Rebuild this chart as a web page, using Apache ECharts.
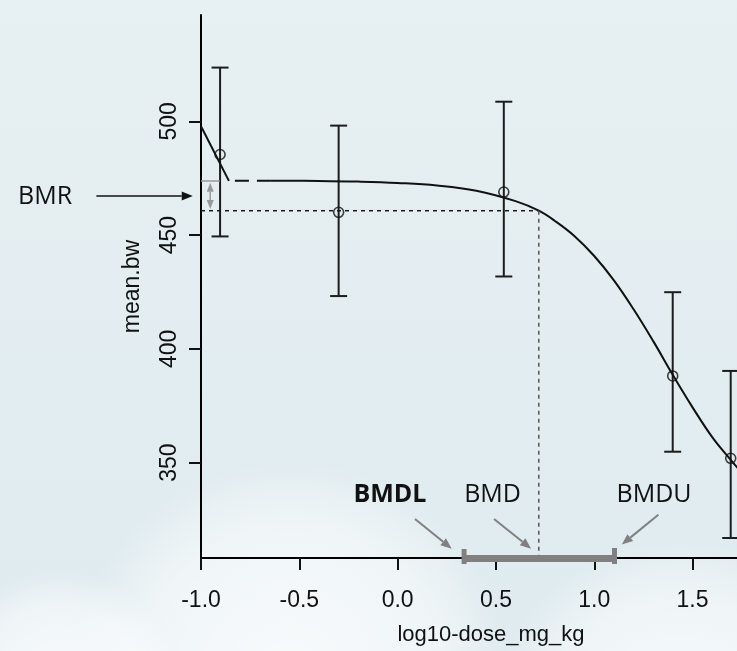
<!DOCTYPE html>
<html>
<head>
<meta charset="utf-8">
<script src="https://cdn.jsdelivr.net/npm/echarts@6/dist/echarts.min.js"></script>
<style>
  html, body { margin: 0; padding: 0; }
  #chart { width: 737px; height: 651px; }
</style>
</head>
<body>
<div id="chart"></div>
<script>
// observed dose groups (log10 dose) with mean and error bar limits
const doseLog = [-0.903, -0.3, 0.54, 1.399, 1.694];
const meanBw = [485.4, 460.0, 468.9, 388.1, 351.9];
const lowerBw = [449.4, 423.2, 431.8, 354.8, 316.9];
const upperBw = [523.6, 498.1, 508.6, 424.9, 390.3];

// fitted curve
const curveX = [-0.644, -0.4, -0.2, 0, 0.2, 0.4, 0.6, 0.718, 0.8, 0.9, 1.0, 1.1, 1.2, 1.3, 1.4, 1.5, 1.6, 1.694, 1.73];
const curveY = [473.9, 473.8, 473.5, 472.9, 471.8, 469.5, 464.9, 460.7, 456.2, 449.5, 440.8, 430.1, 417.4, 403.4, 388.5, 374.3, 361.2, 351.2, 347.6];

// short piece left of the control group + dashed link
const leadX = [-1.0, -0.858];
const leadY = [497.8, 473.8];
const linkX = [-0.858, -0.644];
const linkY = [473.8, 473.9];

// benchmark values
const bmrTop = 473.8;
const bmrLevel = 460.7;
const bmd = 0.718;
const bmdl = 0.338;
const bmdu = 1.103;

const xTicks = [-1.0, -0.5, 0.0, 0.5, 1.0, 1.5];
const yTicks = [350, 400, 450, 500];
const xMin = -1.0, xMax = 1.726;
const yMin = 308.1, yMax = 546.7;

const chart = echarts.init(document.getElementById('chart'));

const pairs = (xs, ys) => xs.map((x, i) => [x, ys[i]]);
const axisFont = '"Liberation Sans", Arial, sans-serif';

const option = {
  animation: false,
  backgroundColor: {
    type: 'linear', x: 0, y: 0, x2: 0, y2: 1,
    colorStops: [
      { offset: 0, color: '#e7f0f3' },
      { offset: 1, color: '#dfebef' }
    ]
  },
  grid: { left: 201, right: 0, top: 15, bottom: 91 },
  xAxis: {
    type: 'value',
    min: xMin,
    max: xMax,
    name: 'log10-dose_mg_kg',
    nameLocation: 'middle',
    nameGap: 66,
    nameTextStyle: { fontSize: 22, fontFamily: axisFont, color: '#111', padding: [0, 0, 0, 44] },
    splitLine: { show: false },
    axisLine: { onZero: false, lineStyle: { color: '#000', width: 2 } },
    axisTick: { customValues: xTicks, length: 12, lineStyle: { color: '#111', width: 2 } },
    axisLabel: {
      customValues: xTicks,
      margin: 31,
      fontSize: 23,
      fontFamily: axisFont,
      color: '#111',
      formatter: v => v.toFixed(1)
    }
  },
  yAxis: {
    type: 'value',
    min: yMin,
    max: yMax,
    name: 'mean.bw',
    nameLocation: 'middle',
    nameGap: 57,
    nameTextStyle: { fontSize: 23, fontFamily: axisFont, color: '#111' },
    splitLine: { show: false },
    axisLine: { onZero: false, lineStyle: { color: '#000', width: 2 } },
    axisTick: { customValues: yTicks, length: 12, lineStyle: { color: '#111', width: 2 } },
    axisLabel: {
      customValues: yTicks,
      rotate: 90,
      margin: 20,
      fontSize: 23,
      fontFamily: axisFont,
      color: '#111'
    }
  },
  series: [
    {
      type: 'custom',
      name: 'errorbars',
      clip: false,
      data: doseLog.map((x, i) => [x, lowerBw[i], upperBw[i]]),
      renderItem: (params, api) => {
        const x = api.value(0);
        const lo = api.coord([x, api.value(1)]);
        const hi = api.coord([x, api.value(2)]);
        const hw = 8.5;
        const st = { stroke: '#1c1c1c', lineWidth: 2 };
        return {
          type: 'group',
          children: [
            { type: 'line', shape: { x1: hi[0], y1: hi[1], x2: lo[0], y2: lo[1] }, style: st },
            { type: 'line', shape: { x1: hi[0] - hw, y1: hi[1], x2: hi[0] + hw, y2: hi[1] }, style: st },
            { type: 'line', shape: { x1: lo[0] - hw, y1: lo[1], x2: lo[0] + hw, y2: lo[1] }, style: st }
          ]
        };
      }
    },
    {
      type: 'line',
      name: 'lead',
      data: pairs(leadX, leadY),
      showSymbol: false,
      lineStyle: { color: '#111', width: 2 }
    },
    {
      type: 'line',
      name: 'link',
      data: pairs(linkX, linkY),
      showSymbol: false,
      lineStyle: { color: '#111', width: 2, type: [14, 8], dashOffset: -6 }
    },
    {
      type: 'line',
      name: 'fit',
      data: pairs(curveX, curveY),
      smooth: 0.4,
      showSymbol: false,
      clip: false,
      lineStyle: { color: '#111', width: 2 }
    },
    {
      type: 'line',
      name: 'bmr level',
      data: [[xMin, bmrLevel], [bmd, bmrLevel]],
      showSymbol: false,
      lineStyle: { color: '#1a1a1a', width: 1.5, type: [4, 4] }
    },
    {
      type: 'line',
      name: 'bmd drop',
      data: [[bmd, bmrLevel], [bmd, yMin]],
      showSymbol: false,
      lineStyle: { color: '#555', width: 1.5, type: [4, 4] }
    },
    {
      type: 'line',
      name: 'bmr top',
      data: [[xMin, bmrTop], [-0.905, bmrTop]],
      showSymbol: false,
      lineStyle: { color: '#999', width: 1.5 }
    },
    {
      type: 'scatter',
      name: 'means',
      data: pairs(doseLog, meanBw),
      symbol: 'circle',
      symbolSize: 10,
      clip: false,
      z: 5,
      itemStyle: { color: 'rgba(0,0,0,0)', borderColor: '#111', borderWidth: 1.6 }
    },
    {
      type: 'custom',
      name: 'bmd interval',
      clip: false,
      z: 6,
      data: [[bmdl, bmdu]],
      renderItem: (params, api) => {
        const a = api.coord([api.value(0), yMin]);
        const b = api.coord([api.value(1), yMin]);
        const c = '#808080';
        return {
          type: 'group',
          children: [
            { type: 'line', shape: { x1: a[0], y1: a[1] + 0.5, x2: b[0], y2: b[1] + 0.5 }, style: { stroke: c, lineWidth: 7 } },
            { type: 'rect', shape: { x: a[0] - 2.5, y: a[1] - 9, width: 5, height: 15 }, style: { fill: c } },
            { type: 'rect', shape: { x: b[0] - 2.5, y: b[1] - 10, width: 5, height: 16 }, style: { fill: c } }
          ]
        };
      }
    }
  ]
};

chart.setOption(option);

// annotations, placed in data coordinates
const labelSpots = [
  { text: 'BMR', x: -1.793, y: 467.0, bold: false },
  { text: 'BMDL', x: -0.039, y: 335.7, bold: true },
  { text: 'BMD', x: 0.483, y: 335.7, bold: false },
  { text: 'BMDU', x: 1.304, y: 335.7, bold: false }
];
const arrowSpots = [
  { from: [-1.532, 467.2], to: [-1.042, 467.2], color: '#111', width: 1.5 },
  { from: [0.0885, 325.2], to: [0.275, 312.2], color: '#808080', width: 2 },
  { from: [0.490, 325.2], to: [0.679, 312.2], color: '#808080', width: 2 },
  { from: [1.326, 327.1], to: [1.140, 314.0], color: '#808080', width: 2 }
];

const px = p => chart.convertToPixel({ gridIndex: 0 }, p);

function arrow(p0, p1, color, width, len, half) {
  const dx = p1[0] - p0[0], dy = p1[1] - p0[1];
  const d = Math.sqrt(dx * dx + dy * dy);
  const ux = dx / d, uy = dy / d;
  const bx = p1[0] - ux * len, by = p1[1] - uy * len;
  return [
    { type: 'line', shape: { x1: p0[0], y1: p0[1], x2: bx, y2: by }, style: { stroke: color, lineWidth: width } },
    {
      type: 'polygon',
      shape: { points: [p1, [bx - uy * half, by + ux * half], [bx + uy * half, by - ux * half]] },
      style: { fill: color }
    }
  ];
}

const graphics = [];
labelSpots.forEach(s => {
  const p = px([s.x, s.y]);
  graphics.push({
    type: 'text',
    x: p[0], y: p[1],
    style: {
      text: s.text,
      fill: '#111',
      font: (s.bold ? 'bold ' : '') + '25px "Open Sans", "Noto Sans", sans-serif',
      align: 'center',
      verticalAlign: 'middle'
    }
  });
});
arrowSpots.forEach(a => {
  arrow(px(a.from), px(a.to), a.color, a.width, 11, 4.5).forEach(g => graphics.push(g));
});
// double-headed BMR bracket arrow
const bracketX = -0.953;
const bracketTop = px([bracketX, bmrTop - 0.8]);
const bracketBot = px([bracketX, bmrLevel + 0.8]);
const bracketMid = [(bracketTop[0] + bracketBot[0]) / 2, (bracketTop[1] + bracketBot[1]) / 2];
arrow(bracketMid, bracketTop, '#999', 1.5, 9, 3.5).forEach(g => graphics.push(g));
arrow(bracketMid, bracketBot, '#999', 1.5, 9, 3.5).forEach(g => graphics.push(g));

// soft cloud shapes in the background
const clouds = [
  { cx: 290, cy: 680, r: 220 },
  { cx: 680, cy: 740, r: 200 },
  { cx: 60, cy: 690, r: 120 }
];
clouds.forEach(c => {
  graphics.push({
    type: 'circle',
    z: -10,
    silent: true,
    shape: { cx: c.cx, cy: c.cy, r: c.r },
    style: {
      fill: {
        type: 'radial', x: 0.5, y: 0.5, r: 0.5,
        colorStops: [
          { offset: 0, color: 'rgba(255,255,255,0.8)' },
          { offset: 0.7, color: 'rgba(255,255,255,0.5)' },
          { offset: 1, color: 'rgba(255,255,255,0)' }
        ]
      }
    }
  });
});

chart.setOption({ graphic: graphics });
</script>
</body>
</html>
